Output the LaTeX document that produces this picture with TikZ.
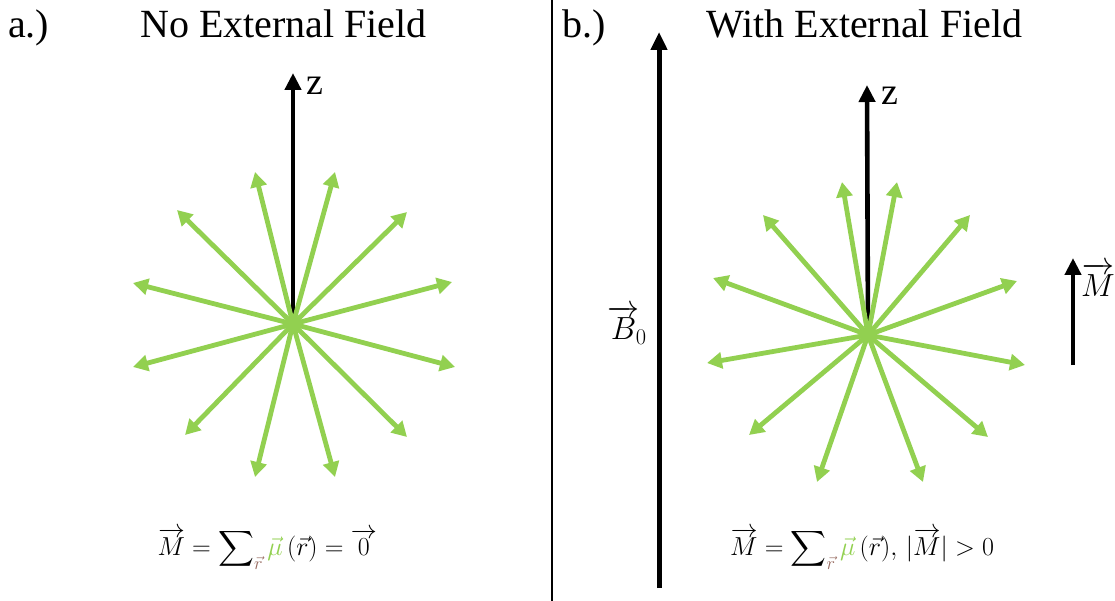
\RequirePackage{fix-cm}
\documentclass[tikz,border=0pt]{standalone}
\usepackage{amsmath}
\usepackage{fontspec}
\setmainfont{Liberation Serif}
\usetikzlibrary{arrows.meta}
\definecolor{lgreen}{RGB}{146,208,80}
\definecolor{rbrown}{RGB}{150,105,95}
\newcommand{\bigsumop}{\mathop{\vcenter{\hbox{\fontsize{31}{36}\selectfont$\displaystyle\sum$}}}\nolimits}
\begin{document}
\begin{tikzpicture}[x=1pt,y=-1pt,
  garrow/.style={draw=lgreen, line width=4.8pt, -{Triangle[width=16pt,length=15pt]}},
  barrow/.style={draw=black, line width=4.6pt, -{Triangle[width=16pt,length=17pt]}},
  bigarrow/.style={draw=black, line width=5pt, -{Triangle[width=16pt,length=18pt]}},
  divider/.style={draw=black, line width=2pt},
  title/.style={font=\fontsize{40}{48}\selectfont, anchor=base west, inner sep=0pt},
  zlab/.style={font=\fontsize{38}{44}\selectfont, inner sep=0pt, anchor=base west},
  mathlab/.style={font=\fontsize{26}{32}\selectfont, inner sep=0pt},
  biglab/.style={font=\fontsize{32}{38}\selectfont, inner sep=0pt}]
\useasboundingbox (0,0) rectangle (1115,601);
\clip (0,0) rectangle (1115,601);
% titles
\node[title] (la) at (8,38) {a.)};
\node[title] (lt) at (140,38) {No External Field};
\node[title] (lb) at (562,38) {b.)};
\node[title] (rt) at (706,38) {With External Field};
% divider
\coordinate (dtop) at (552,0);
\coordinate (dbot) at (552,601);
\draw[divider] (dtop) -- (dbot);
% left panel
\coordinate (c1) at (293,324);
\coordinate (z1) at (293,73);
\draw[barrow] (c1) -- (z1);
\node[zlab] (zl1) at (306,95) {z};
\foreach \i/\px/\py in {1/255/172,2/335/172,3/177/210,4/407/212,
                   5/133/283,6/452/282,7/133/367,8/455/367,
                   9/185/435,10/407/437,11/255/477,12/335/477}{
  \coordinate (a\i) at (\px,\py);
  \draw[garrow] (c1) -- (a\i);
}
\node[mathlab, anchor=base east] (f1) at (377,555) {$\overrightarrow{M}=\bigsumop_{\textcolor{rbrown}{\vec r}}\textcolor{lgreen}{\vec\mu}\,(\vec r)=\overrightarrow{0}$};
% right panel
\coordinate (b0s) at (659,588);
\coordinate (b0t) at (659,32);
\draw[bigarrow] (b0s) -- (b0t);
\node[biglab] (b0l) at (627,325) {${\overrightarrow{B}}_{\!0}$};
\coordinate (c2) at (868,335);
\coordinate (z2) at (867,85);
\draw[barrow] (c2) -- (z2);
\node[zlab] (zl2) at (881,105) {z};
\foreach \i/\px/\py in {1/842/182,2/897/182,3/763/215,4/970/215,
                   5/713/278,6/1017/281,7/707/363,8/1025/365,
                   9/749/435,10/988/437,11/817/482,12/923/482}{
  \coordinate (b\i) at (\px,\py);
  \draw[garrow] (c2) -- (b\i);
}
\coordinate (ms) at (1073,365);
\coordinate (mt) at (1073,258);
\draw[barrow] (ms) -- (mt);
\node[biglab, anchor=base west] (ml) at (1081,296) {$\overrightarrow{M}$};
\node[mathlab, anchor=base west] (f2) at (730,555) {$\overrightarrow{M}=\bigsumop_{\textcolor{rbrown}{\vec r}}\textcolor{lgreen}{\vec\mu}\,(\vec r),\,|\overrightarrow{M}|>0$};
\end{tikzpicture}
\end{document}
